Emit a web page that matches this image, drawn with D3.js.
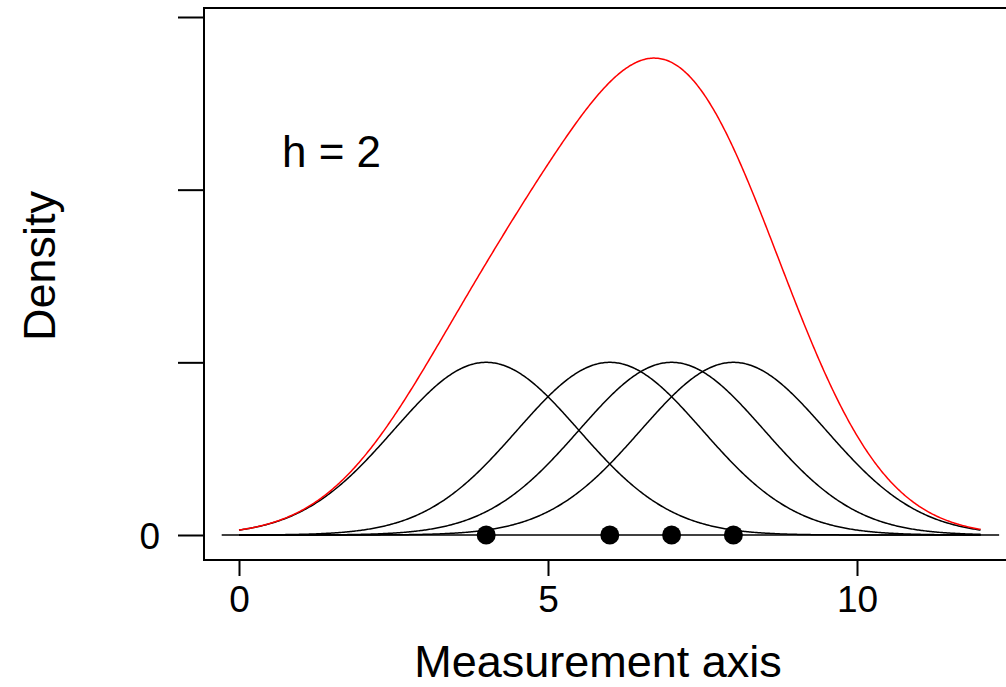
<!DOCTYPE html>
<html>
<head>
<meta charset="utf-8">
<script src="https://cdn.jsdelivr.net/npm/d3@7"></script>
<style>
  html, body { margin: 0; padding: 0; background: #fff; }
  svg { display: block; }
  text { font-family: "Liberation Sans", Arial, sans-serif; fill: #000; }
</style>
</head>
<body>
<svg id="chart" width="1006" height="687"></svg>
<script>
// Observations placed on the measurement axis
const observations = [4, 6, 7, 8];
// Gaussian kernel spread and the evaluation range of the curves
const kernelSd = 1.5;
const curveRange = [0, 12];
const baselineRange = [-0.28, 12.3];
// Axis ticks
const xTicks = [0, 5, 10];
const xTickLabels = ["0", "5", "10"];
const yTicks = [0, 1, 2, 3];
const yTickLabels = ["0", "", "", ""];
const bandwidthText = "h = 2";
const xTitle = "Measurement axis";
const yTitle = "Density";

const W = 1006, H = 687;
const frame = { left: 204, top: 8, right: 1012, bottom: 560 };

const svg = d3.select("#chart");

const x = d3.scaleLinear().domain([0, 10]).range([239, 857]);
const y = d3.scaleLinear().domain([0, 3]).range([535, 17]);

// Kernel bump centred on one observation (peak height 1)
const kernel = xi => v => Math.exp(-((v - xi) ** 2) / (2 * kernelSd * kernelSd));

const grid = d3.range(curveRange[0], curveRange[1] + 1e-9, 0.02);
const line = d3.line().x(d => x(d[0])).y(d => y(d[1])).curve(d3.curveLinear);

const plot = svg.append("g");

// Individual kernels
observations.forEach(xi => {
  const k = kernel(xi);
  plot.append("path")
    .datum(grid.map(v => [v, k(v)]))
    .attr("d", line)
    .attr("fill", "none")
    .attr("stroke", "#000")
    .attr("stroke-width", 1.5);
});

// Summed density
const sumPts = grid.map(v => [v, d3.sum(observations, xi => kernel(xi)(v))]);
plot.append("path")
  .datum(sumPts)
  .attr("d", line)
  .attr("fill", "none")
  .attr("stroke", "#ff0000")
  .attr("stroke-width", 1.5);

// Zero baseline
plot.append("line")
  .attr("x1", x(baselineRange[0])).attr("x2", x(baselineRange[1]))
  .attr("y1", y(0)).attr("y2", y(0))
  .attr("stroke", "#000").attr("stroke-width", 1.5);

// Observation points
plot.selectAll("circle.obs")
  .data(observations)
  .join("circle")
  .attr("class", "obs")
  .attr("cx", d => x(d))
  .attr("cy", y(0))
  .attr("r", 9.5)
  .attr("fill", "#000");

// Frame (left, top, bottom edges; right edge lies beyond the canvas)
const frameG = svg.append("g").attr("stroke", "#000").attr("stroke-width", 2).attr("fill", "none");
frameG.append("rect")
  .attr("x", frame.left).attr("y", frame.top)
  .attr("width", frame.right - frame.left)
  .attr("height", frame.bottom - frame.top);

// Y axis ticks
const yAxis = d3.axisLeft(y)
  .tickValues(yTicks)
  .tickFormat((d, i) => yTickLabels[i])
  .tickSize(26)
  .tickPadding(18);
const yg = svg.append("g").attr("transform", `translate(${frame.left},0)`).call(yAxis);
yg.select(".domain").remove();
yg.selectAll(".tick line").attr("stroke", "#000").attr("stroke-width", 2);
yg.selectAll(".tick text")
  .attr("font-size", 37)
  .attr("font-family", "Liberation Sans, Arial, sans-serif")
  .attr("dy", "0.36em");

// X axis ticks
const xAxis = d3.axisBottom(x)
  .tickValues(xTicks)
  .tickFormat((d, i) => xTickLabels[i])
  .tickSize(16)
  .tickPadding(10);
const xg = svg.append("g").attr("transform", `translate(0,${frame.bottom})`).call(xAxis);
xg.select(".domain").remove();
xg.selectAll(".tick line").attr("stroke", "#000").attr("stroke-width", 2);
xg.selectAll(".tick text")
  .attr("font-size", 37)
  .attr("font-family", "Liberation Sans, Arial, sans-serif");

// Titles
svg.append("text")
  .attr("x", 598).attr("y", 677)
  .attr("text-anchor", "middle")
  .attr("font-size", 45)
  .text(xTitle);

svg.append("text")
  .attr("transform", "translate(55,266) rotate(-90)")
  .attr("text-anchor", "middle")
  .attr("font-size", 45)
  .text(yTitle);

svg.append("text")
  .attr("x", 282).attr("y", 167)
  .attr("font-size", 44)
  .text(bandwidthText);
</script>
</body>
</html>
